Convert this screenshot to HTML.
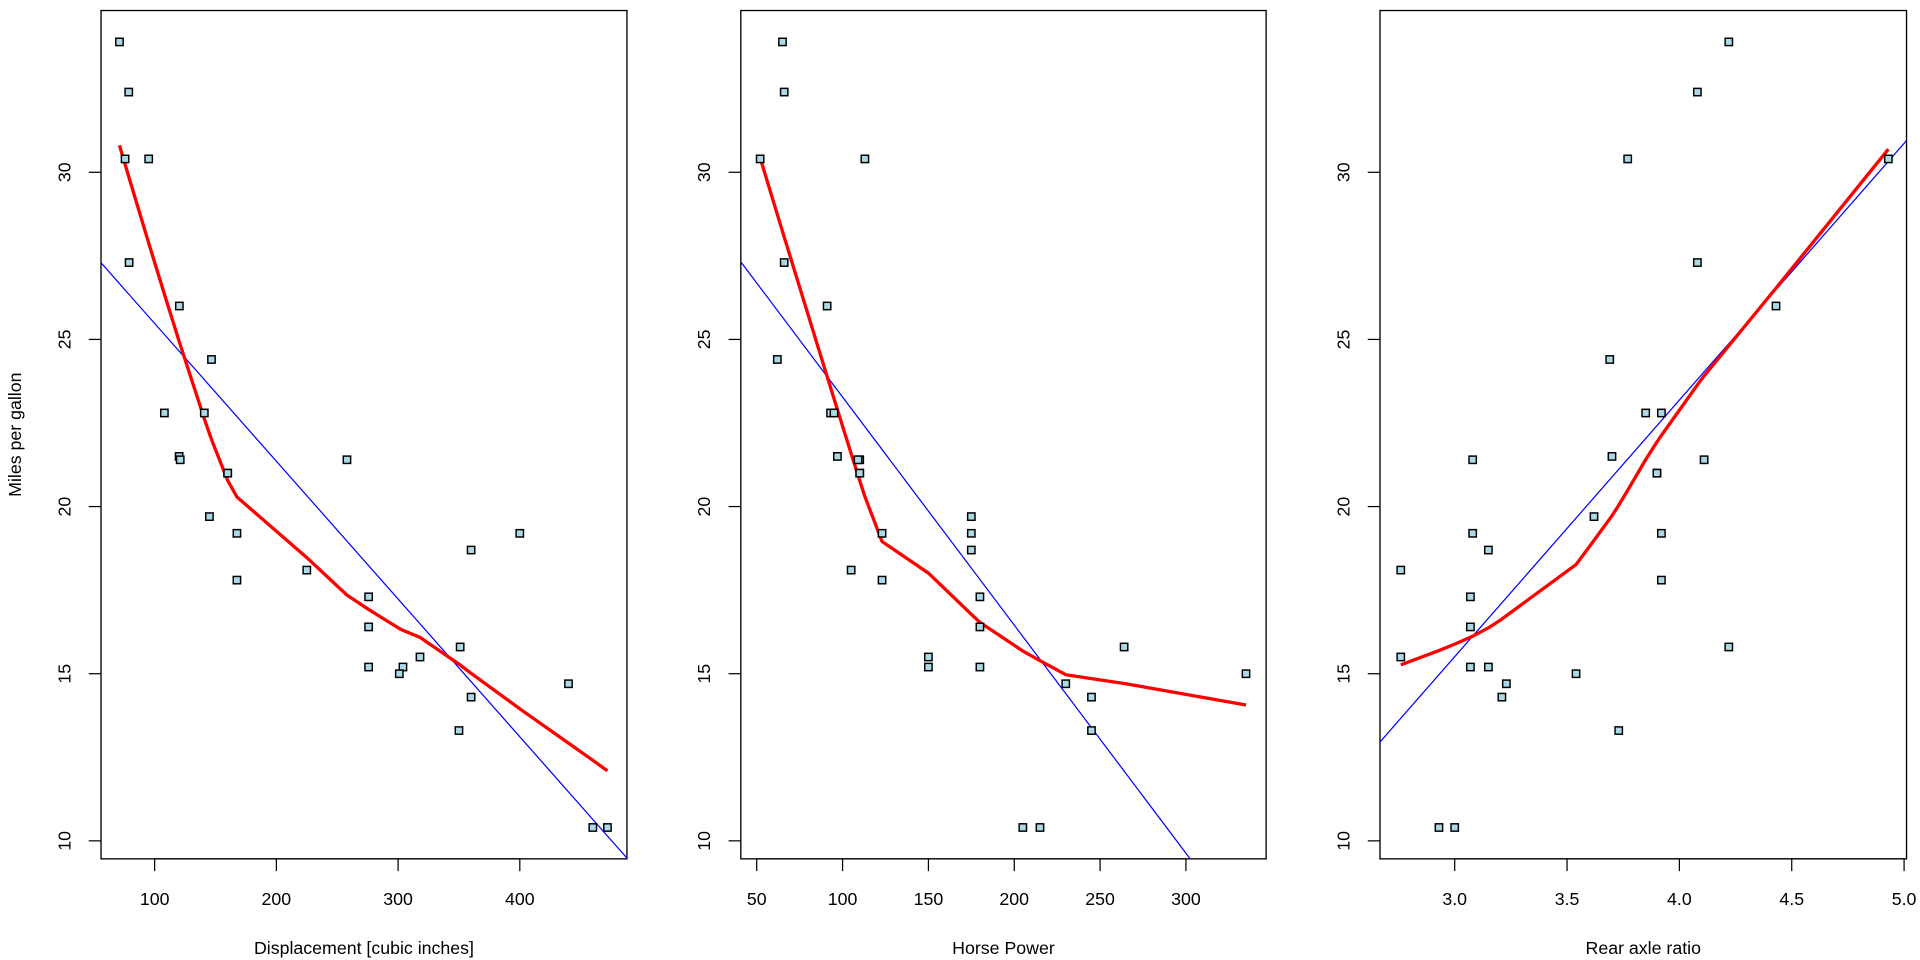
<!DOCTYPE html>
<html><head><meta charset="utf-8"><style>
html,body{margin:0;padding:0;background:#fff;}
svg{display:block;font-family:"Liberation Sans",Arial,sans-serif;}
</style></head><body>
<svg id="s" width="1920" height="960" viewBox="0 0 1568 784" preserveAspectRatio="none" xmlns="http://www.w3.org/2000/svg"></svg>
<script>
const d=[[21,160,110,3.90],[21,160,110,3.90],[22.8,108,93,3.85],[21.4,258,110,3.08],[18.7,360,175,3.15],[18.1,225,105,2.76],[14.3,360,245,3.21],[24.4,146.7,62,3.69],[22.8,140.8,95,3.92],[19.2,167.6,123,3.92],[17.8,167.6,123,3.92],[16.4,275.8,180,3.07],[17.3,275.8,180,3.07],[15.2,275.8,180,3.07],[10.4,472,205,2.93],[10.4,460,215,3.00],[14.7,440,230,3.23],[32.4,78.7,66,4.08],[30.4,75.7,52,4.93],[33.9,71.1,65,4.22],[21.5,120.1,97,3.70],[15.5,318,150,2.76],[15.2,304,150,3.15],[13.3,350,245,3.73],[19.2,400,175,3.08],[27.3,79,66,4.08],[26,120.3,91,4.43],[30.4,95.1,113,3.77],[15.8,351,264,4.22],[19.7,145,175,3.62],[15,301,335,3.54],[21.4,121,109,4.11]];

function lowess(X,Yv,f=2/3,iter=3){
  const idx=X.map((v,i)=>i).sort((a,b)=>X[a]-X[b]||a-b);
  const x=idx.map(i=>X[i]), y=idx.map(i=>Yv[i]);
  const n=x.length;
  const ns=Math.max(Math.min(Math.floor(f*n+1e-7),n),2);
  const delta=0.01*(x[n-1]-x[0]);
  const ys=new Array(n).fill(0), rw=new Array(n).fill(1), w=new Array(n).fill(0), res=new Array(n).fill(0);
  const range=x[n-1]-x[0];
  function lowest(xs,nleft,nright,userw){
    const h=Math.max(xs-x[nleft],x[nright]-xs),h9=0.999*h,h1=0.001*h;
    let a=0,j=nleft;
    while(j<n){
      w[j]=0;const r=Math.abs(x[j]-xs);
      if(r<=h9){ if(r<=h1) w[j]=1; else w[j]=Math.pow(1-Math.pow(r/h,3),3); if(userw) w[j]*=rw[j]; a+=w[j]; }
      else if(x[j]>xs) break;
      j++;
    }
    const nrt=j-1;
    if(a<=0) return null;
    for(j=nleft;j<=nrt;j++) w[j]/=a;
    if(h>0){
      a=0;for(j=nleft;j<=nrt;j++) a+=w[j]*x[j];
      let b=xs-a,c=0;for(j=nleft;j<=nrt;j++) c+=w[j]*(x[j]-a)*(x[j]-a);
      if(Math.sqrt(c)>0.001*range){ b/=c; for(j=nleft;j<=nrt;j++) w[j]*=(b*(x[j]-a)+1); }
    }
    let s=0;for(j=nleft;j<=nrt;j++) s+=w[j]*y[j];
    return s;
  }
  for(let it=0;it<=iter;it++){
    let nleft=0,nright=ns-1,last=-1,i=0;
    for(;;){
      if(nright<n-1){ const d1=x[i]-x[nleft],d2=x[nright+1]-x[i]; if(d1>d2){nleft++;nright++;continue;} }
      const v=lowest(x[i],nleft,nright,it>0);
      ys[i]=(v===null)?y[i]:v;
      if(last<i-1){ const den=x[i]-x[last]; for(let j=last+1;j<i;j++){ const al=(x[j]-x[last])/den; ys[j]=al*ys[i]+(1-al)*ys[last]; } }
      last=i; const cut=x[last]+delta;
      for(i=last+1;i<n;i++){ if(x[i]>cut) break; if(x[i]===x[last]){ys[i]=ys[last];last=i;} }
      i=Math.max(last+1,i-1);
      if(last>=n-1) break;
    }
    for(let k=0;k<n;k++) res[k]=y[k]-ys[k];
    if(it>=iter) break;
    const ar=res.map(Math.abs).sort((a,b)=>a-b);
    const m1=Math.floor(n/2);
    const med=(n%2===0)?(ar[m1-1]+ar[m1])/2:ar[m1];
    const cmad=6*med;
    if(cmad<1e-7*y.reduce((s,v)=>s+Math.abs(v),0)/n) break;
    const c9=0.999*cmad,c1=0.001*cmad;
    for(let k=0;k<n;k++){ const r=Math.abs(res[k]); rw[k]= r<=c1?1:(r<=c9?Math.pow(1-Math.pow(r/cmad,2),2):0); }
  }
  return x.map((v,i)=>[v,ys[i]]);
}

const Y=m=>686.7-(m-10)*27.3;
const YT=8.6,YB=701.4;
const P=[
 {x0:82.5,x1:512,f:v=>126.3+(v-100)*0.994,ticks:[100,200,300,400],lab:v=>v,col:1,a:29.5999,b:-0.041215,name:"Displacement [cubic inches]"},
 {x0:605,x1:1034,f:v=>618+(v-50)*1.402,ticks:[50,100,150,200,250,300],lab:v=>v,col:2,a:30.0989,b:-0.068228,name:"Horse Power"},
 {x0:1127,x1:1557,f:v=>1188+(v-3)*183.5,ticks:[3,3.5,4,4.5,5],lab:v=>v.toFixed(1),col:3,a:-7.525,b:7.678,name:"Rear axle ratio"}
];
let h="";
P.forEach((p,i)=>{
 h+=`<clipPath id="c${i}"><rect x="${p.x0}" y="${YT}" width="${p.x1-p.x0}" height="${YB-YT}"/></clipPath>`;
 h+=`<rect x="${p.x0}" y="${YT}" width="${p.x1-p.x0}" height="${YB-YT}" fill="none" stroke="#000" stroke-width="1.1"/>`;
 [10,15,20,25,30].forEach(t=>{const y=Y(t);h+=`<line x1="${p.x0}" x2="${p.x0-10}" y1="${y}" y2="${y}" stroke="#000"/><text x="${p.x0-25}" y="${y}" font-size="14.5" text-anchor="middle" transform="rotate(-90 ${p.x0-25} ${y})">${t}</text>`;});
 h+=`<line x1="${p.f(p.ticks[0])}" x2="${p.f(p.ticks[p.ticks.length-1])}" y1="${YB}" y2="${YB}" stroke="#000"/>`;
 p.ticks.forEach(t=>{const x=p.f(t);h+=`<line x1="${x}" x2="${x}" y1="${YB}" y2="${YB+10}" stroke="#000"/><text x="${x}" y="739" font-size="14.5" text-anchor="middle">${p.lab(t)}</text>`;});
 h+=`<text x="${(p.x0+p.x1)/2}" y="779" font-size="14.5" text-anchor="middle">${p.name}</text>`;
 const inv=x=>{const a0=p.f(0),a1=p.f(1);return (x-a0)/(a1-a0);};
 const v0=inv(p.x0-20),v1=inv(p.x1+20);
 const L=lowess(d.map(r=>r[p.col]),d.map(r=>r[0]));
 const pts=L.map(q=>p.f(q[0]).toFixed(2)+","+Y(q[1]).toFixed(2)).join(" ");
 h+=`<g clip-path="url(#c${i})"><line x1="${p.f(v0)}" y1="${Y(p.a+p.b*v0)}" x2="${p.f(v1)}" y2="${Y(p.a+p.b*v1)}" stroke="#0000ff" stroke-width="1"/>`;
 h+=`<polyline points="${pts}" fill="none" stroke="#ff0000" stroke-width="2.7" stroke-linejoin="round"/></g>`;
 d.forEach(r=>{const x=p.f(r[p.col]),y=Y(r[0]);h+=`<rect x="${x-3}" y="${y-3}" width="6" height="6" fill="#add8e6" stroke="#000" stroke-width="1.2"/>`;});
});
h+=`<text x="17" y="355" font-size="14.5" text-anchor="middle" transform="rotate(-90 17 355)">Miles per gallon</text>`;
document.getElementById("s").innerHTML=h;
</script>
</body></html>
